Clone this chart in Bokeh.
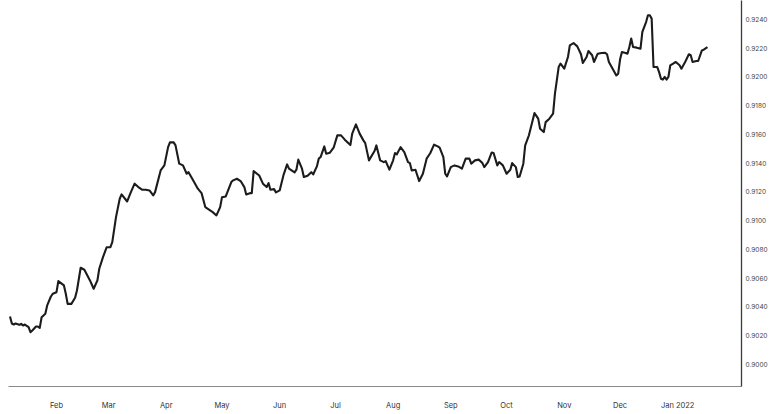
from datetime import datetime, timedelta
from bokeh.plotting import figure
from bokeh.models import Range1d, FixedTicker, DatetimeTickFormatter, ColumnDataSource
from bokeh.embed import file_html
from bokeh.resources import INLINE

# x values: days since 2021-01-01
days = [6, 7, 8, 9, 11, 12, 13, 14, 16, 17,
        18, 20, 21, 22, 23, 25, 26, 28, 29, 31,
        32, 35, 36, 37, 39, 41, 42, 44, 46, 49,
        51, 53, 54, 56, 58, 60, 61, 63, 65, 66,
        69, 71, 73, 75, 77, 79, 81, 83, 84, 87,
        89, 91, 92, 94, 95, 97, 99, 101, 102, 104,
        107, 109, 111, 115, 117, 119, 120, 122, 125, 126,
        128, 130, 132, 133, 135, 136, 137, 140, 142, 144,
        145, 146, 148, 149, 151, 153, 155, 156, 159, 160,
        161, 163, 164, 166, 168, 169, 171, 172, 173, 175,
        176, 178, 180, 182, 184, 186, 189, 190, 192, 194,
        196, 197, 199, 202, 203, 205, 207, 208, 210, 212,
        213, 214, 216, 218, 220, 221, 222, 224, 226, 228,
        230, 232, 234, 236, 237, 239, 240, 241, 243, 245,
        247, 249, 251, 253, 254, 256, 258, 260, 261, 263,
        265, 266, 268, 269, 271, 273, 275, 276, 278, 279,
        280, 282, 283, 285, 287, 288, 290, 291, 293, 294,
        296, 298, 299, 301, 302, 304, 306, 307, 309, 311,
        313, 314, 316, 317, 319, 320, 322, 324, 326, 327,
        328, 330, 332, 333, 334, 335, 337, 338, 339, 340,
        341, 343, 345, 346, 348, 349, 350, 351, 352, 354,
        355, 356, 357, 358, 359, 360, 361, 363, 364, 366,
        367, 369, 371, 372, 373, 375, 376, 378, 379, 381]

values = [0.90334, 0.90285, 0.90278, 0.90285, 0.90276, 0.90283, 0.90271, 0.90278, 0.90260, 0.90225,
          0.90237, 0.90264, 0.90264, 0.90255, 0.90329, 0.90353, 0.90411, 0.90473, 0.90492, 0.90503,
          0.90580, 0.90550, 0.90492, 0.90422, 0.90422, 0.90464, 0.90515, 0.90673, 0.90659, 0.90585,
          0.90527, 0.90585, 0.90666, 0.90747, 0.90816, 0.90816, 0.90851, 0.91025, 0.91153, 0.91183,
          0.91134, 0.91199, 0.91258, 0.91234, 0.91216, 0.91216, 0.91211, 0.91176, 0.91199, 0.91350,
          0.91385, 0.91512, 0.91545, 0.91545, 0.91524, 0.91397, 0.91385, 0.91327, 0.91338, 0.91292,
          0.91223, 0.91192, 0.91095, 0.91060, 0.91037, 0.91095, 0.91164, 0.91169, 0.91269, 0.91281,
          0.91292, 0.91276, 0.91234, 0.91183, 0.91192, 0.91192, 0.91345, 0.91315, 0.91258, 0.91234,
          0.91262, 0.91216, 0.91220, 0.91197, 0.91211, 0.91315, 0.91392, 0.91362, 0.91336, 0.91355,
          0.91425, 0.91362, 0.91304, 0.91313, 0.91338, 0.91322, 0.91378, 0.91432, 0.91443, 0.91517,
          0.91466, 0.91473, 0.91508, 0.91594, 0.91594, 0.91564, 0.91526, 0.91606, 0.91670, 0.91606,
          0.91559, 0.91540, 0.91420, 0.91485, 0.91524, 0.91420, 0.91408, 0.91415, 0.91355, 0.91420,
          0.91471, 0.91462, 0.91512, 0.91478, 0.91408, 0.91401, 0.91350, 0.91355, 0.91276, 0.91327,
          0.91432, 0.91471, 0.91529, 0.91517, 0.91508, 0.91443, 0.91327, 0.91308, 0.91373, 0.91385,
          0.91378, 0.91362, 0.91432, 0.91432, 0.91397, 0.91420, 0.91425, 0.91401, 0.91373, 0.91408,
          0.91475, 0.91471, 0.91385, 0.91408, 0.91385, 0.91327, 0.91355, 0.91401, 0.91373, 0.91304,
          0.91308, 0.91397, 0.91524, 0.91594, 0.91698, 0.91749, 0.91710, 0.91640, 0.91617, 0.91686,
          0.91710, 0.91745, 0.91884, 0.92069, 0.92093, 0.92058, 0.92139, 0.92220, 0.92236, 0.92213,
          0.92158, 0.92097, 0.92139, 0.92181, 0.92151, 0.92104, 0.92162, 0.92167, 0.92168, 0.92158,
          0.92104, 0.92058, 0.92011, 0.92023, 0.92121, 0.92174, 0.92167, 0.92162, 0.92208, 0.92267,
          0.92208, 0.92204, 0.92197, 0.92313, 0.92382, 0.92429, 0.92429, 0.92406, 0.92069, 0.92069,
          0.92034, 0.91988, 0.91982, 0.92000, 0.91982, 0.92000, 0.92081, 0.92097, 0.92104, 0.92081,
          0.92058, 0.92104, 0.92158, 0.92151, 0.92104, 0.92111, 0.92111, 0.92185, 0.92190, 0.92208]

tick_dates = ["2021-02-01", "2021-03-01", "2021-04-01", "2021-05-01", "2021-06-01", "2021-07-01",
              "2021-08-01", "2021-09-01", "2021-10-01", "2021-11-01", "2021-12-01", "2022-01-01"]
tick_labels = ["Feb", "Mar", "Apr", "May", "Jun", "Jul", "Aug", "Sep", "Oct", "Nov", "Dec", "Jan 2022"]

y_ticks = [0.9000, 0.9020, 0.9040, 0.9060, 0.9080, 0.9100, 0.9120,
           0.9140, 0.9160, 0.9180, 0.9200, 0.9220, 0.9240]

base = datetime(2021, 1, 1)
dates = [base + timedelta(days=d) for d in days]
src = ColumnDataSource(data=dict(x=dates, y=values))

p = figure(width=772, height=414, x_axis_type="datetime", y_axis_location="right",
           output_backend="svg", toolbar_location=None,
           x_range=Range1d(base + timedelta(days=5.2), base + timedelta(days=399.3)),
           y_range=Range1d(0.89847, 0.92532),
           min_border_left=8, min_border_top=0, min_border_right=31, min_border_bottom=28)
p.outline_line_color = None
p.grid.visible = False
p.background_fill_color = "white"

p.line("x", "y", source=src, line_color="#1c1c1c", line_width=2.1, line_join="round")

epoch = datetime(1970, 1, 1)
tick_ms = [(datetime.strptime(t, "%Y-%m-%d") - epoch).total_seconds() * 1000.0 for t in tick_dates]
xa = p.xaxis[0]
xa.ticker = FixedTicker(ticks=tick_ms)
xa.formatter = DatetimeTickFormatter(months="%b", days="%b")
xa.major_label_overrides = {ms: lab for ms, lab in zip(tick_ms, tick_labels)}
xa.major_tick_line_color = None
xa.minor_tick_line_color = None
xa.major_tick_out = 0
xa.minor_tick_out = 0
xa.axis_line_color = "#8a8a8a"
xa.axis_line_width = 1
xa.major_label_standoff = 14
xa.major_label_text_font = "Inter"
xa.major_label_text_font_size = "7.5px"
xa.major_label_text_color = "#333333"

ya = p.yaxis[0]
ya.ticker = FixedTicker(ticks=y_ticks)
ya.major_label_overrides = {v: "%.4f" % v for v in y_ticks}
ya.major_tick_line_color = None
ya.minor_tick_line_color = None
ya.major_tick_out = 0
ya.minor_tick_out = 0
ya.axis_line_color = "#3a3a3a"
ya.axis_line_width = 1.3
ya.major_label_standoff = 4
ya.major_label_text_font = "Inter"
ya.major_label_text_font_size = "6.5px"
ya.major_label_text_color = "#444444"

open("out.html", "w").write(file_html(p, INLINE))
